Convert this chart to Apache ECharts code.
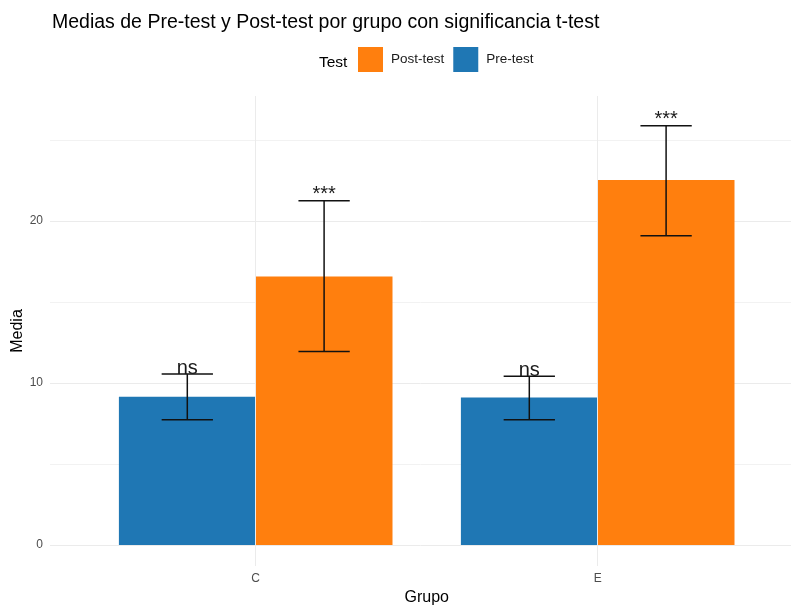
<!DOCTYPE html>
<html>
<head>
<meta charset="utf-8">
<script src="https://cdn.jsdelivr.net/npm/echarts@6/dist/echarts.min.js"></script>
<style>html,body{margin:0;padding:0;background:#fff;}#c{width:791px;height:608px;}</style>
</head>
<body>
<div id="c"></div>
<script>
const categories = ['C', 'E'];
const preMean = [9.15, 9.09];
const postMean = [16.56, 22.51];
const preLow = [7.72, 7.72];
const preHigh = [10.54, 10.41];
const postLow = [11.93, 19.07];
const postHigh = [21.23, 25.86];
const preSig = ['ns', 'ns'];
const postSig = ['***', '***'];
const yTickLabels = [0, 10, 20];
const yGridValues = [0, 5, 10, 15, 20, 25];

const FONT = 'Liberation Sans';
const Y_MIN = -1.3, Y_MAX = 27.7;

function errRender(sign, sig) {
  return function (params, api) {
    const idx = api.value(0);
    const lo = api.coord([idx, api.value(1)]);
    const hi = api.coord([idx, api.value(2)]);
    const band = api.size([1, 0])[0];
    const x = lo[0] + sign * band * 0.2;
    const hw = band * 0.075;
    const ls = { stroke: '#111', lineWidth: 1.5 };
    return {
      type: 'group',
      children: [
        { type: 'line', shape: { x1: x, y1: lo[1], x2: x, y2: hi[1] }, style: ls },
        { type: 'line', shape: { x1: x - hw, y1: lo[1], x2: x + hw, y2: lo[1] }, style: ls },
        { type: 'line', shape: { x1: x - hw, y1: hi[1], x2: x + hw, y2: hi[1] }, style: ls },
        { type: 'text', x: x, y: hi[1] + 4, style: { text: sig[params.dataIndex], fontFamily: FONT, fontSize: 20, fill: '#1a1a1a', align: 'center', verticalAlign: 'bottom' } }
      ]
    };
  };
}

const chart = echarts.init(document.getElementById('c'));
chart.setOption({
  animation: false,
  backgroundColor: '#fff',
  textStyle: { fontFamily: FONT },
  title: [
    { text: 'Medias de Pre-test y Post-test por grupo con significancia t-test', left: 47, top: 8,
      textStyle: { fontFamily: FONT, fontSize: 19.5, fontWeight: 'normal', color: '#000' } },
    { text: 'Test', left: 314, top: 50, textStyle: { fontFamily: FONT, fontSize: 15.5, fontWeight: 'normal', color: '#000' } }
  ],
  legend: {
    data: ['Post-test', 'Pre-test'],
    left: 353, top: 42,
    icon: 'rect', itemWidth: 25, itemHeight: 25, itemGap: 9,
    selectedMode: false,
    textStyle: { fontFamily: FONT, fontSize: 13.5, color: '#1a1a1a', padding: [2, 0, 0, 3] }
  },
  grid: [
    { left: 50, right: 0, top: 96, bottom: 42, outerBoundsMode: 'none', containLabel: false },
    { left: 84.7, right: 22.3, top: 96, bottom: 42, outerBoundsMode: 'none', containLabel: false }
  ],
  xAxis: [
    { gridIndex: 0, type: 'value', min: 0, max: 1, show: false },
    { gridIndex: 1, type: 'category', data: categories,
      axisLine: { show: false }, axisTick: { show: false }, splitLine: { show: false },
      axisLabel: { color: '#4d4d4d', fontSize: 12, margin: 7, fontFamily: FONT },
      name: 'Grupo', nameLocation: 'middle', nameGap: 24,
      nameTextStyle: { color: '#000', fontSize: 16, fontFamily: FONT } }
  ],
  yAxis: [
    { gridIndex: 0, type: 'value', min: Y_MIN, max: Y_MAX,
      axisLine: { show: false },
      axisTick: { show: false, customValues: yGridValues },
      axisLabel: { customValues: yTickLabels, color: '#4d4d4d', fontSize: 12, margin: 7, fontFamily: FONT },
      splitLine: { show: true, lineStyle: { color: ['#ebebeb', '#f2f2f2'], width: 1 } },
      name: 'Media', nameLocation: 'middle', nameRotate: 90, nameGap: 24, nameMoveOverlap: false,
      nameTextStyle: { color: '#000', fontSize: 16, fontFamily: FONT } },
    { gridIndex: 1, type: 'value', min: Y_MIN, max: Y_MAX, show: false, splitLine: { show: false } }
  ],
  series: [
    { type: 'line', xAxisIndex: 1, yAxisIndex: 1, data: [], z: 0,
      markLine: { silent: true, symbol: 'none', label: { show: false },
        lineStyle: { color: '#ebebeb', type: 'solid', width: 1 },
        data: categories.map(c => ({ xAxis: c })) } },
    { name: 'Pre-test', type: 'bar', xAxisIndex: 1, yAxisIndex: 1, data: preMean,
      itemStyle: { color: '#1f77b4' }, barGap: '0%', barCategoryGap: '20%', z: 2 },
    { name: 'Post-test', type: 'bar', xAxisIndex: 1, yAxisIndex: 1, data: postMean,
      itemStyle: { color: '#ff7f0e' }, z: 2 },
    { name: 'errPre', type: 'custom', xAxisIndex: 1, yAxisIndex: 1, z: 5,
      renderItem: errRender(-1, preSig),
      data: categories.map((c, i) => [i, preLow[i], preHigh[i]]) },
    { name: 'errPost', type: 'custom', xAxisIndex: 1, yAxisIndex: 1, z: 5,
      renderItem: errRender(1, postSig),
      data: categories.map((c, i) => [i, postLow[i], postHigh[i]]) }
  ]
});
</script>
</body>
</html>
